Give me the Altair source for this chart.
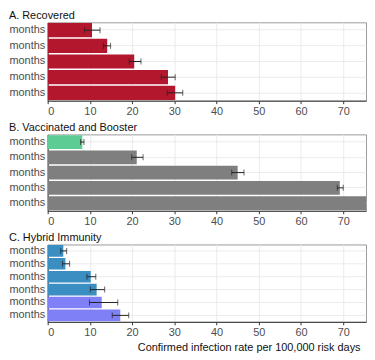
import altair as alt
import pandas as pd

# ---- data ----
labels_a = ["months", "months", "months", "months", "months"]
values_a = [10.5, 14.1, 20.5, 28.5, 30.2]
lo_a = [8.7, 13.2, 19.3, 26.9, 28.3]
hi_a = [12.4, 14.9, 22.1, 30.2, 32.0]
group_a = ["Recovered"] * 5

labels_b = ["months", "months", "months", "months", "months"]
values_b = [8.2, 21.1, 45.0, 69.2, 82.0]
lo_b = [7.8, 19.9, 43.6, 68.6, 80.5]
hi_b = [8.6, 22.6, 46.5, 70.0, 83.5]
group_b = ["Booster", "Vaccinated", "Vaccinated", "Vaccinated", "Vaccinated"]

labels_c = ["months", "months", "months", "months", "months", "months"]
values_c = [3.7, 4.2, 10.2, 11.6, 12.8, 17.2]
lo_c = [3.1, 3.5, 9.3, 10.1, 9.9, 15.3]
hi_c = [4.5, 5.2, 11.4, 13.5, 16.6, 19.2]
group_c = ["Hybrid 1", "Hybrid 1", "Hybrid 1", "Hybrid 1", "Hybrid 2", "Hybrid 2"]

titles = ["A. Recovered", "B. Vaccinated and Booster", "C. Hybrid Immunity"]
x_ticks = [0, 10, 20, 30, 40, 50, 60, 70]
x_title = "Confirmed infection rate per 100,000 risk days"

color_domain = ["Recovered", "Booster", "Vaccinated", "Hybrid 1", "Hybrid 2"]
color_range = ["#B3172E", "#5DCB94", "#7F7F7F", "#3A8EC1", "#7F7FF6"]

W = 321


def panel(labels, values, lo, hi, group, title, height, show_title):
    df = pd.DataFrame({
        "key": [f"{l}|{i}" for i, l in enumerate(labels)],
        "value": values, "lo": lo, "hi": hi, "group": group,
    })
    y = alt.Y("key:N", sort=None, title=None,
              scale=alt.Scale(paddingInner=0.1, paddingOuter=0.05),
              axis=alt.Axis(labelExpr="split(datum.value, '|')[0]", ticks=False,
                            labelPadding=3, grid=True, gridColor="#EBEBEB"))
    xscale = alt.Scale(domain=[0, 75.4], nice=False, zero=True)
    xaxis = alt.Axis(values=x_ticks, grid=True, gridColor="#EBEBEB",
                     title=x_title if show_title else None,
                     titleAnchor="end", titleX=W - 6, titleAlign="right",
                     titleFontWeight="normal", titleFontSize=11, titleColor="#111",
                     titlePadding=4, tickSize=3, labelPadding=2)
    base = alt.Chart(df)
    bars = base.mark_bar(clip=True).encode(
        x=alt.X("value:Q", scale=xscale, axis=xaxis),
        y=y,
        color=alt.Color("group:N", legend=None,
                        scale=alt.Scale(domain=color_domain, range=color_range)),
    )
    rule = base.mark_rule(color="#222", strokeWidth=1, clip=True).encode(
        x="lo:Q", x2="hi:Q", y=y)
    cap_lo = base.mark_tick(color="#222", size=6, thickness=1, clip=True).encode(
        x="lo:Q", y=y)
    cap_hi = base.mark_tick(color="#222", size=6, thickness=1, clip=True).encode(
        x="hi:Q", y=y)
    return alt.layer(bars, rule, cap_lo, cap_hi).properties(
        width=W, height=height,
        title=alt.TitleParams(title, anchor="start", fontSize=11, fontWeight="normal",
                              font="Liberation Sans", color="#111", offset=1,
                              dx=0),
    )


pa = panel(labels_a, values_a, lo_a, hi_a, group_a, titles[0], 79, False)
pb = panel(labels_b, values_b, lo_b, hi_b, group_b, titles[1], 77, False)
pc = panel(labels_c, values_c, lo_c, hi_c, group_c, titles[2], 78, True)

chart = alt.vconcat(pa, pb, pc, spacing=4).properties(
    padding={"left": 0, "top": 0, "right": 0, "bottom": 0}
).configure_view(stroke="#9A9A9A", strokeWidth=1).configure_axis(
    labelFont="Liberation Sans", titleFont="Liberation Sans",
    labelFontSize=11, labelColor="#4D4D4D", domainColor="#333", tickColor="#333",
).configure_axisY(domainColor="#333")

chart.save("out.html", embed_options={"renderer": "svg", "actions": False})
